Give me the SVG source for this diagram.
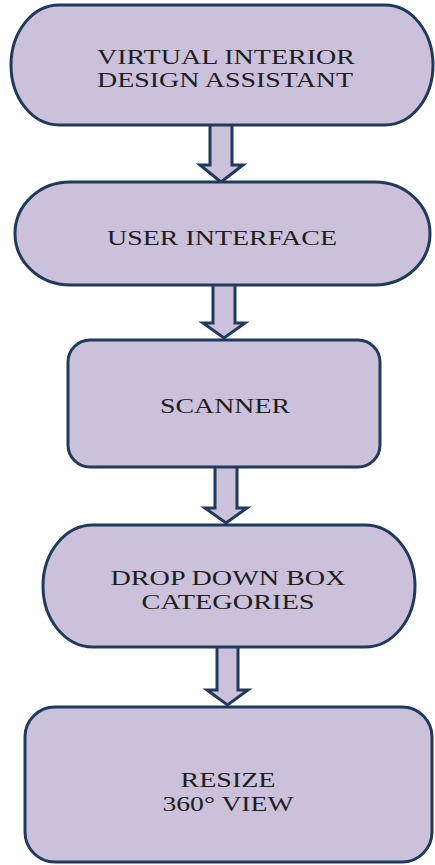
<svg xmlns="http://www.w3.org/2000/svg" width="435" height="865" viewBox="0 0 435 865">
  <style>
    .box { fill: #CBC1DB; stroke: #1F3A5A; stroke-width: 3; }
    .arrow { fill: #CBC1DB; stroke: #1F3A5A; stroke-width: 3; stroke-linejoin: miter; }
    .label { font-family: "Liberation Serif", "Times New Roman", serif; font-size: 22px; fill: #1E1E1E; text-anchor: middle; }
  </style>
  <rect width="435" height="865" fill="#FFFFFF"/>

  <!-- block arrows between steps -->
  <g id="connectors">
    <path class="arrow" d="M210,122 V165 H200 L221,182 L243,165 H232 V122"/>
    <path class="arrow" d="M213,282 V323 H203 L224,338 L245,323 H235 V282"/>
    <path class="arrow" d="M215,464 V508 H205 L226,523 L247,508 H237 V464"/>
    <path class="arrow" d="M217,644 V690 H207 L227.5,705 L248,690 H238 V644"/>
  </g>

  <g id="node-assistant">
    <rect class="box" x="11" y="5" width="422" height="120" rx="48" ry="60"/>
    <text class="label" x="226" y="64" textLength="258" lengthAdjust="spacingAndGlyphs">VIRTUAL INTERIOR</text>
    <text class="label" x="225" y="87" textLength="256" lengthAdjust="spacingAndGlyphs">DESIGN ASSISTANT</text>
  </g>

  <g id="node-interface">
    <rect class="box" x="15" y="182" width="415" height="103" rx="55" ry="51.5"/>
    <text class="label" x="222" y="245" textLength="230" lengthAdjust="spacingAndGlyphs">USER INTERFACE</text>
  </g>

  <g id="node-scanner">
    <rect class="box" x="68" y="340" width="312" height="127" rx="22" ry="22"/>
    <text class="label" x="225" y="413" textLength="130" lengthAdjust="spacingAndGlyphs">SCANNER</text>
  </g>

  <g id="node-dropdown">
    <rect class="box" x="43" y="525" width="372" height="122" rx="50" ry="61"/>
    <text class="label" x="228" y="585" textLength="235" lengthAdjust="spacingAndGlyphs">DROP DOWN BOX</text>
    <text class="label" x="228" y="609" textLength="173" lengthAdjust="spacingAndGlyphs">CATEGORIES</text>
  </g>

  <g id="node-resize">
    <rect class="box" x="25" y="707" width="407" height="155" rx="30" ry="30"/>
    <text class="label" x="228" y="787" textLength="95" lengthAdjust="spacingAndGlyphs">RESIZE</text>
    <text class="label" x="228" y="811" textLength="131" lengthAdjust="spacingAndGlyphs">360° VIEW</text>
  </g>
</svg>
